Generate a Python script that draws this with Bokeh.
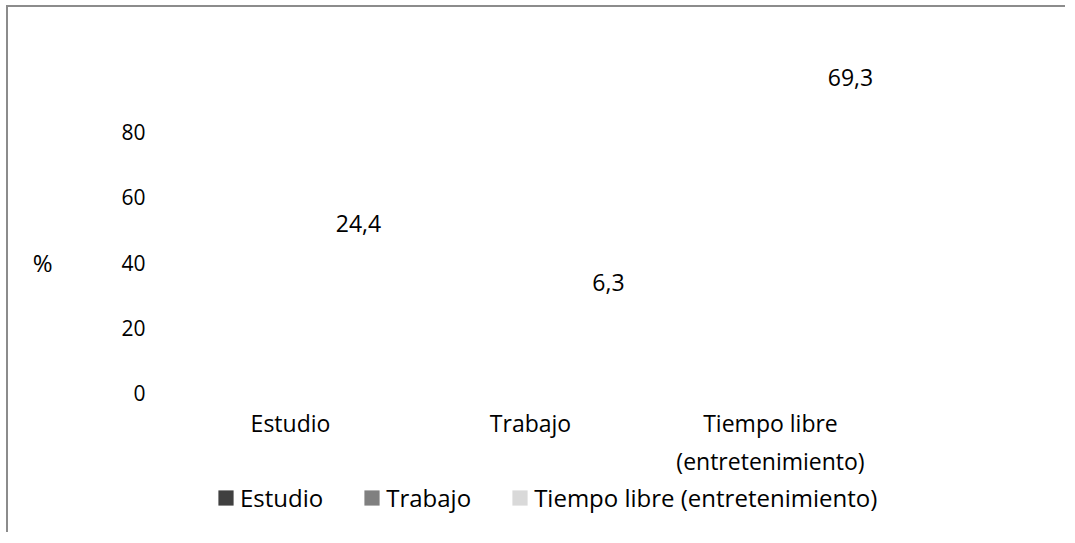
from bokeh.plotting import figure
from bokeh.models import (ColumnDataSource, FactorRange, Range1d, FixedTicker,
                          Legend, LegendItem)
from bokeh.core.properties import value
from bokeh.embed import file_html
from bokeh.resources import INLINE

# ---- data ----
categories = ["Estudio", "Trabajo", "Tiempo libre (entretenimiento)"]
category_tick_labels = ["Estudio", "Trabajo", "Tiempo libre\n(entretenimiento)"]
values = [24.4, 6.3, 69.3]
value_labels = ["24,4", "6,3", "69,3"]
y_ticks = [0, 20, 40, 60, 80]
y_title = "%"
colors = ["#404040", "#808080", "#d9d9d9"]

# ---- style (3-D depth shift of the data labels, px) ----
label_dx = [68, 78, 80]
label_dy = -90

FONT = "Open Sans"

# frame runs down over the category labels and legend; value 0 sits above them
p = figure(x_range=FactorRange(*categories), y_range=Range1d(-38.46, 118.46),
           width=1059, height=527, output_backend="svg", toolbar_location=None,
           min_border_left=162, min_border_right=177, min_border_top=0,
           min_border_bottom=17)
p.styles = {"border-top": "2px solid #8c8c8c", "border-left": "2px solid #8c8c8c",
            "margin-left": "6px", "margin-top": "5px"}
p.xgrid.visible = False
p.ygrid.visible = False
p.outline_line_color = None
p.background_fill_color = "white"
p.border_fill_color = "white"
p.xaxis.visible = False

yax = p.yaxis[0]
yax.axis_line_color = None
yax.major_tick_line_color = None
yax.minor_tick_line_color = None
yax.major_tick_out = 0
yax.major_tick_in = 0
yax.ticker = FixedTicker(ticks=y_ticks)
yax.major_label_text_font = FONT
yax.major_label_text_color = "black"
yax.major_label_text_font_size = "21px"
yax.major_label_standoff = 25
yax.axis_label = y_title
yax.axis_label_text_font = FONT
yax.axis_label_text_font_style = "normal"
yax.axis_label_text_font_size = "24px"
yax.axis_label_text_color = "black"
yax.axis_label_standoff = 66
if "axis_label_orientation" in yax.properties():
    yax.axis_label_orientation = "horizontal"

# bars (defined from data; the reference shows no painted bars, so they are hidden)
items = []
for cat, v, c in zip(categories, values, colors):
    src = ColumnDataSource(dict(x=[cat], top=[v]))
    r = p.vbar(x="x", top="top", width=0.5, source=src, fill_color=c,
               line_color=None)
    r.visible = False
    items.append(LegendItem(label=cat, renderers=[r]))

# category labels, placed through the categorical scale at the value-axis base
p.text(x=categories, y=[y_ticks[0]] * len(categories), text=category_tick_labels,
       y_offset=14, text_align="center", text_baseline="top",
       text_font=value(FONT), text_font_size="23px", text_color="black")

# data labels
p.text(x=categories, y=values, text=value_labels, x_offset=label_dx,
       y_offset=label_dy, text_align="center", text_baseline="middle",
       text_font=value(FONT), text_font_size="23px", text_color="black")

legend = Legend(items=items, orientation="horizontal", location=(46, 3),
                glyph_width=19, glyph_height=19, label_standoff=5, spacing=39,
                padding=0, margin=0, border_line_color=None,
                background_fill_alpha=0, label_text_font=FONT,
                label_text_font_size="24px", label_text_color="black",
                inactive_fill_alpha=0, click_policy="none")
p.add_layout(legend)

open("out.html", "w").write(file_html(p, INLINE))
